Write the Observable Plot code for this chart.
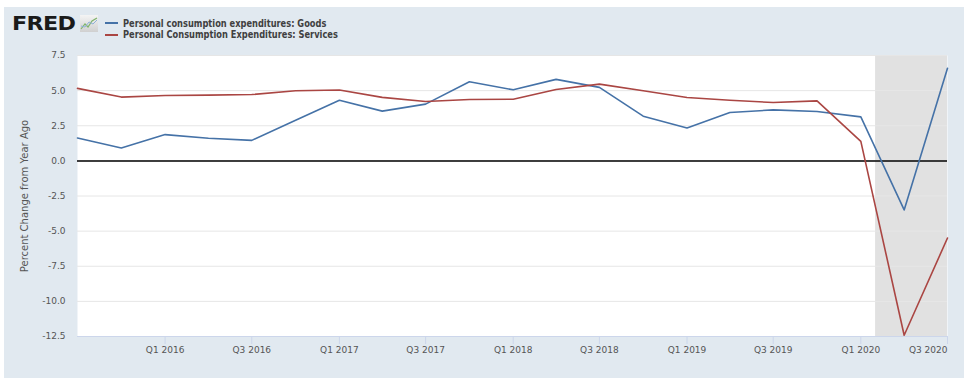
<!DOCTYPE html>
<html>
<head>
<meta charset="utf-8">
<script src="https://cdn.jsdelivr.net/npm/d3@7"></script>
<script src="https://cdn.jsdelivr.net/npm/@observablehq/plot@0.6"></script>
<style>
  html, body { margin: 0; padding: 0; background: #ffffff; width: 978px; height: 378px; overflow: hidden; }
  #frame { position: absolute; left: 4px; top: 7px; width: 960px; height: 371px; background: #e1e9f0; }
  #chart { position: absolute; left: 0; top: 0; }
  #logo { position: absolute; left: 8px; top: 5px; font-family: "DejaVu Sans", sans-serif; font-weight: 900; font-size: 19px; color: #1a1a1a; transform: scaleX(1.17); transform-origin: left center; letter-spacing: -0.6px; }
  #icon { position: absolute; left: 76px; top: 8px; }
  .leg { position: absolute; left: 101px; font-family: "DejaVu Sans", sans-serif; font-weight: bold; font-size: 10px; color: #404040; white-space: nowrap; display: flex; align-items: center; }
  .leg .sw { display: inline-block; width: 13px; height: 2px; margin-right: 5px; }
  .leg .tx { display: inline-block; transform: scaleX(0.827); transform-origin: left center; }
</style>
</head>
<body>
<div id="frame">
  <div id="chart"></div>
  <div id="logo">FRED</div>
  <svg id="icon" width="18" height="17" viewBox="0 0 18 17">
    <defs><linearGradient id="g" x1="0" y1="0" x2="0" y2="1"><stop offset="0" stop-color="#f4f4f4"/><stop offset="1" stop-color="#d0d0d0"/></linearGradient></defs>
    <rect x="0" y="0" width="18" height="17" fill="url(#g)"/>
    <polyline points="1,14 5,9 8,12 12,6 17,3" fill="none" stroke="#7fb46a" stroke-width="1.2"/>
    <polyline points="1,11 5,12 9,7 13,9 17,5" fill="none" stroke="#8fb0d8" stroke-width="1"/>
  </svg>
  <div id="legend"></div>
</div>
<script>
// ---- data ----
const quarters = ["2015-07-01","2015-10-01","2016-01-01","2016-04-01","2016-07-01","2016-10-01",
  "2017-01-01","2017-04-01","2017-07-01","2017-10-01","2018-01-01","2018-04-01","2018-07-01",
  "2018-10-01","2019-01-01","2019-04-01","2019-07-01","2019-10-01","2020-01-01","2020-04-01","2020-07-01"];
const goods = [1.63, 0.92, 1.87, 1.61, 1.46, 2.89, 4.32, 3.54, 4.04, 5.63, 5.06, 5.80, 5.23, 3.18, 2.34, 3.44, 3.63, 3.51, 3.13, -3.49, 6.59];
const services = [5.16, 4.54, 4.65, 4.68, 4.72, 4.99, 5.04, 4.52, 4.23, 4.37, 4.39, 5.08, 5.46, 4.99, 4.51, 4.32, 4.15, 4.27, 1.39, -12.41, -5.49];
const seriesNames = ["Personal consumption expenditures: Goods", "Personal Consumption Expenditures: Services"];
const seriesColors = ["#4572a7", "#aa4643"];
const tickDates = ["2016-01-01","2016-07-01","2017-01-01","2017-07-01","2018-01-01","2018-07-01","2019-01-01","2019-07-01","2020-01-01","2020-07-01"];
const tickLabels = ["Q1 2016","Q3 2016","Q1 2017","Q3 2017","Q1 2018","Q3 2018","Q1 2019","Q3 2019","Q1 2020","Q3 2020"];
const yTicks = [-12.5, -10, -7.5, -5, -2.5, 0, 2.5, 5, 7.5];
const recessionStart = ["2020-02-01"];
const recessionEnd = ["2020-07-01"];
const yLabel = "Percent Change from Year Ago";

// ---- build ----
const parse = d3.utcParse("%Y-%m-%d");
const rows = [];
quarters.forEach((q, i) => {
  rows.push({date: parse(q), value: goods[i], series: seriesNames[0]});
  rows.push({date: parse(q), value: services[i], series: seriesNames[1]});
});
const recessions = recessionStart.map((s, i) => ({start: parse(s), end: parse(recessionEnd[i])}));
const ticks = tickDates.map(parse);
const labelOf = new Map(ticks.map((t, i) => [+t, tickLabels[i]]));
const fmt = d => labelOf.get(+d) ?? "";
const yFmt = d => d.toFixed(1);

const font = "DejaVu Sans, sans-serif";
const chart = Plot.plot({
  width: 960,
  height: 371,
  marginLeft: 73,
  marginRight: 17,
  marginTop: 48,
  marginBottom: 42,
  style: {background: "transparent", fontFamily: font, fontSize: "9px", color: "#555555"},
  x: {type: "utc", domain: [parse(quarters[0]), parse(quarters[quarters.length - 1])]},
  y: {domain: [-12.5, 7.5]},
  color: {domain: seriesNames, range: seriesColors},
  marks: [
    Plot.frame({fill: "white", stroke: null}),
    Plot.rect(recessions, {x1: "start", x2: "end", fill: "#e1e1e1"}),
    Plot.gridY(yTicks, {stroke: "#e6e6e6", strokeOpacity: 1, strokeWidth: 1}),
    Plot.ruleY([-12.5], {stroke: "#ccd6eb", strokeWidth: 1}),
    Plot.axisX(ticks.slice(0, -1), {tickFormat: fmt, tickSize: 8, tickPadding: 2, stroke: "#ccd6eb", fill: "#555555", fontSize: 9, label: null}),
    Plot.axisX(ticks.slice(-1), {tickFormat: fmt, tickSize: 8, tickPadding: 2, stroke: "#ccd6eb", fill: "#555555", fontSize: 9, textAnchor: "end", label: null}),
    Plot.axisY(yTicks, {tickFormat: yFmt, tickSize: 0, tickPadding: 12, fill: "#555555", fontSize: 9, label: null}),
    Plot.axisY({ticks: [], tickSize: 0, label: yLabel, labelAnchor: "center", labelArrow: "none", labelOffset: 57, fontSize: 10, fill: "#555555"}),
    Plot.ruleY([0], {stroke: "#000000", strokeWidth: 1.5}),
    Plot.line(rows, {x: "date", y: "value", z: "series", stroke: "series", strokeWidth: 1.6})
  ]
});
document.getElementById("chart").appendChild(chart);

// legend (HTML, from the named arrays)
const legend = document.getElementById("legend");
seriesNames.forEach((name, i) => {
  const d = document.createElement("div");
  d.className = "leg";
  d.style.top = (10.5 + i * 11.5) + "px";
  d.innerHTML = `<span class="sw" style="background:${seriesColors[i]}"></span><span class="tx">${name}</span>`;
  legend.appendChild(d);
});
</script>
</body>
</html>
